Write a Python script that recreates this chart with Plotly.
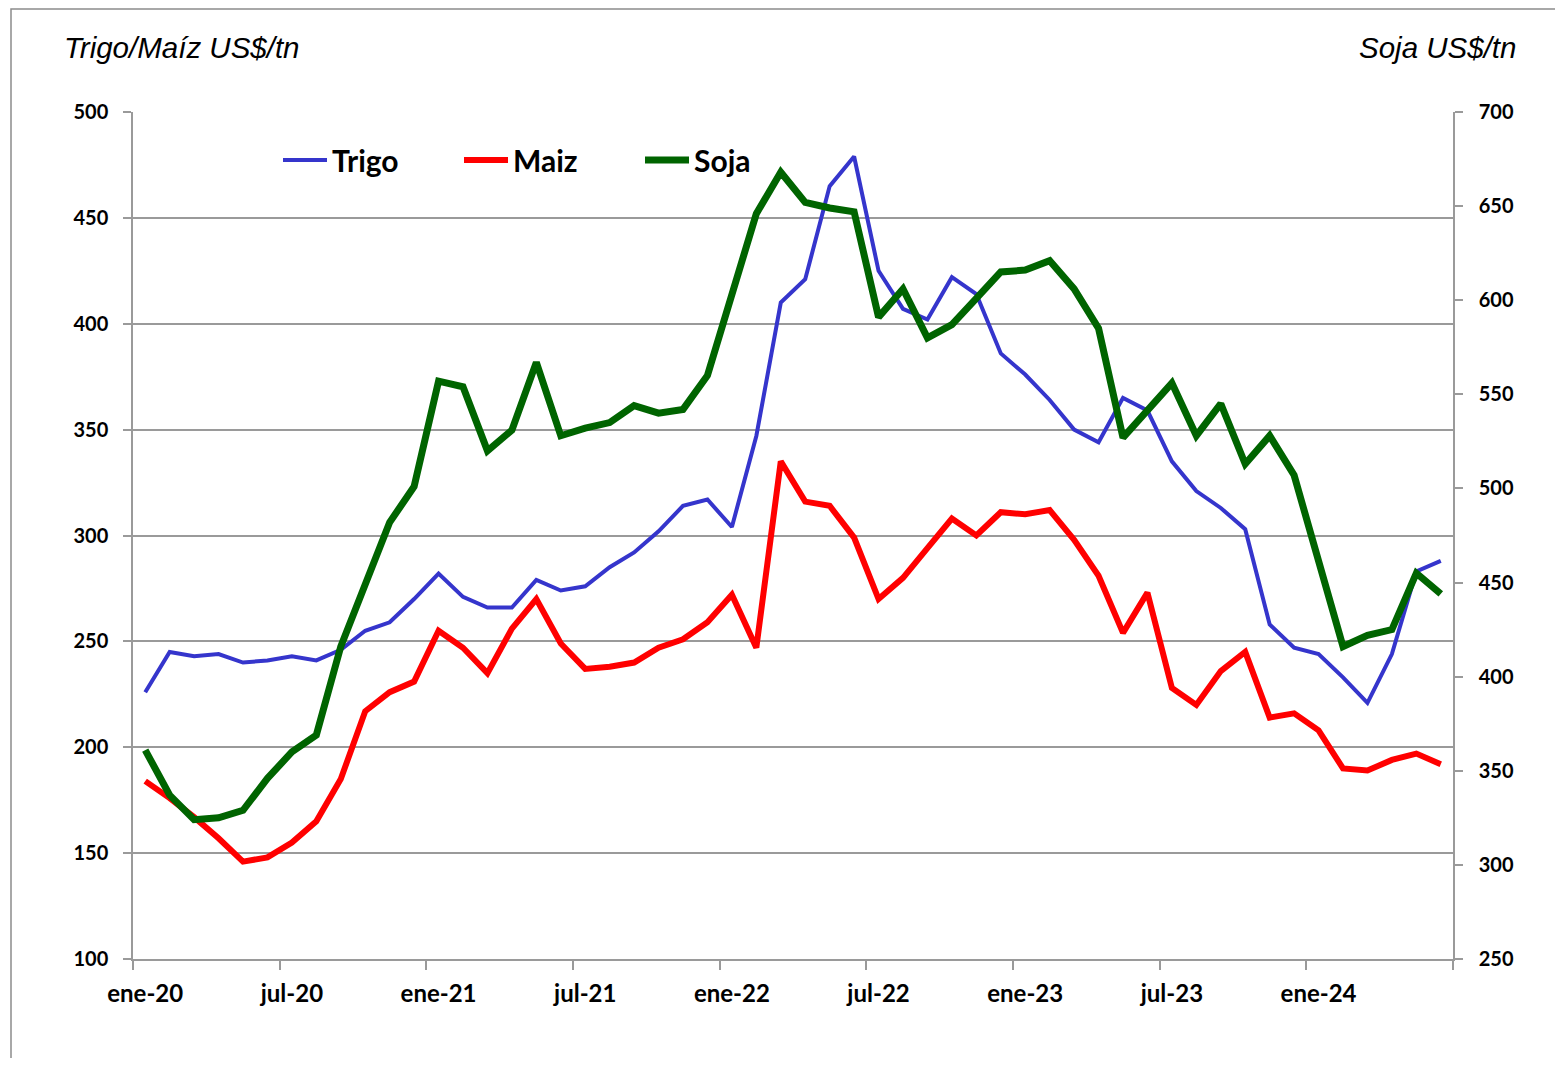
import plotly.graph_objects as go

meses = ["ene", "feb", "mar", "abr", "may", "jun", "jul", "ago", "sep", "oct", "nov", "dic"]
fechas = [f"{meses[m]}-{y}" for y in (20, 21, 22, 23, 24) for m in range(12)][:54]

trigo = [226, 245, 243, 244, 240, 241, 243, 241, 246, 255, 259, 270,
         282, 271, 266, 266, 279, 274, 276, 285, 292, 302, 314, 317,
         304, 347, 410, 421, 465, 479, 425, 407, 402, 422, 414, 386,
         376, 364, 350, 344, 365, 359, 335, 321, 313, 303, 258, 247,
         244, 233, 221, 244, 283, 288]
maiz = [184, 176, 167, 157, 146, 148, 155, 165, 185, 217, 226, 231,
        255, 247, 235, 256, 270, 249, 237, 238, 240, 247, 251, 259,
        272, 247, 335, 316, 314, 299, 270, 280, 294, 308, 300, 311,
        310, 312, 298, 281, 254, 273, 228, 220, 236, 245, 214, 216,
        208, 190, 189, 194, 197, 192]
soja = [361, 337, 324, 325, 329, 346, 360, 369, 416, 450, 482, 501,
        557, 554, 520, 531, 567, 528, 532, 535, 544, 540, 542, 560,
        604, 646, 668, 652, 649, 647, 591, 606, 580, 587, 601, 615,
        616, 621, 606, 585, 527, 542, 556, 528, 545, 513, 528, 507,
        463, 416, 422, 425, 455, 444]

idx = list(range(len(fechas)))
tick_idx = idx[::6]
tick_txt = [fechas[i] for i in tick_idx]
bound_idx = [i - 0.5 for i in range(0, len(fechas) + 1, 6)]

# page body margin offsets the figure by 8px
OFF = 8
W, H = 1547, 1050
L, T = 133 - OFF, 112 - OFF
pw, ph = 1320, 847
R, B = W - L - pw, H - T - ph

def px(x):
    return (x - OFF - L) / pw

def py(y):
    return (T + ph - (y - OFF)) / ph

fig = go.Figure()
fig.add_trace(go.Scatter(x=idx, y=trigo, name="Trigo", mode="lines",
                         line=dict(color="#3535CC", width=4)))
fig.add_trace(go.Scatter(x=idx, y=maiz, name="Maiz", mode="lines",
                         line=dict(color="#FF0000", width=6)))
fig.add_trace(go.Scatter(x=idx, y=soja, name="Soja", mode="lines", yaxis="y2",
                         line=dict(color="#006400", width=7)))

tickfont = dict(family="Lato", size=20, color="#000000", weight="bold")
grey = "#9A9A9A"

fig.update_layout(
    width=W, height=H,
    margin=dict(l=L, r=R, t=T, b=B),
    paper_bgcolor="white", plot_bgcolor="white",
    xaxis=dict(range=[-0.5, len(fechas) - 0.5], tickvals=tick_idx, ticktext=tick_txt,
               ticks="outside", ticklen=0, tickcolor="rgba(0,0,0,0)",
               ticklabelstandoff=12,
               tickfont=dict(family="Lato", size=24, color="#000000", weight="bold"),
               showgrid=False, zeroline=False, showline=True, linecolor=grey, linewidth=1.5,
               minor=dict(tickvals=bound_idx, ticks="outside", ticklen=9,
                          tickcolor=grey, tickwidth=1.5, showgrid=False)),
    yaxis=dict(range=[100, 500], dtick=50, tick0=100, ticks="outside", ticklen=8,
               tickcolor=grey, tickwidth=1.5, ticklabelstandoff=11, tickfont=tickfont,
               showgrid=True, gridcolor=grey, gridwidth=1.5, zeroline=False,
               showline=True, linecolor=grey, linewidth=1.5),
    yaxis2=dict(range=[250, 700], dtick=50, tick0=250, overlaying="y", side="right",
                ticks="outside", ticklen=8, tickcolor=grey, tickwidth=1.5,
                ticklabelstandoff=12, tickfont=tickfont, showgrid=False, zeroline=False,
                showline=True, linecolor=grey, linewidth=1.5),
    showlegend=True,
    legend=dict(orientation="h", x=px(278), y=py(160), xanchor="left", yanchor="middle",
                font=dict(family="Lato", size=30, color="#000000", weight="bold"),
                entrywidth=122, entrywidthmode="pixels", itemwidth=44,
                bgcolor="rgba(0,0,0,0)", traceorder="normal"),
    annotations=[
        dict(text="Trigo/Maíz US$/tn", xref="paper", yref="paper", x=px(62), y=py(47),
             xanchor="left", yanchor="middle", showarrow=False,
             font=dict(family="Liberation Sans", size=29.5, color="#000000", style="italic")),
        dict(text="Soja US$/tn", xref="paper", yref="paper", x=px(1518), y=py(47),
             xanchor="right", yanchor="middle", showarrow=False,
             font=dict(family="Liberation Sans", size=29.5, color="#000000", style="italic")),
    ],
    shapes=[
        dict(type="rect", xref="paper", yref="paper", x0=px(11), x1=px(1580),
             y0=py(1080), y1=py(9), line=dict(color="#8C8C8C", width=1.5),
             fillcolor="rgba(0,0,0,0)", layer="below"),
    ],
)

fig.write_html("out.html")
